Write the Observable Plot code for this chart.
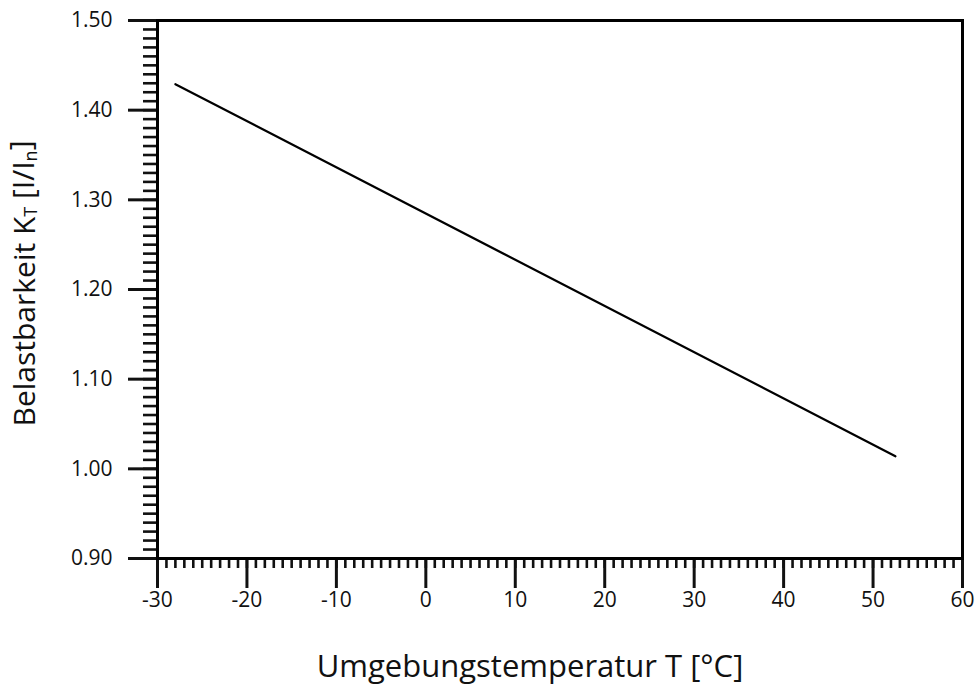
<!DOCTYPE html>
<html>
<head>
<meta charset="utf-8">
<script src="https://cdn.jsdelivr.net/npm/d3@7"></script>
<script src="https://cdn.jsdelivr.net/npm/@observablehq/plot@0.6"></script>
<style>
  html, body { margin: 0; padding: 0; background: #fff; }
</style>
</head>
<body>
<div id="chart"></div>
<script>
// Data
const temperature = [-28, 52.5];          // Umgebungstemperatur T [°C]
const loadFactor  = [1.429, 1.014];       // Belastbarkeit KT [I/In]

// Tick positions / labels
const xMajorTicks = [-30, -20, -10, 0, 10, 20, 30, 40, 50, 60];
const yMajorTicks = [0.90, 1.00, 1.10, 1.20, 1.30, 1.40, 1.50];
const xMinorTicks = d3.range(-30, 61, 1);
const yMinorTicks = d3.range(90, 151, 1).map(v => v / 100);

const data = temperature.map((t, i) => ({t, k: loadFactor[i]}));

const font = "'Open Sans', 'Noto Sans', sans-serif";

const chart = Plot.plot({
  width: 978,
  height: 691,
  marginLeft: 157,
  marginRight: 16,
  marginTop: 20,
  marginBottom: 133,
  style: {fontFamily: font, fontSize: "21px", color: "#111", background: "#fff"},
  x: {domain: [-30, 60]},
  y: {domain: [0.9, 1.5]},
  marks: [
    Plot.axisY({ticks: yMinorTicks, tickSize: 14, strokeWidth: 2.6, tickFormat: () => "", label: null}),
    Plot.axisX({ticks: xMinorTicks, tickSize: 10, strokeWidth: 2.6, tickFormat: () => "", label: null}),
    Plot.axisY({ticks: yMajorTicks, tickSize: 29, strokeWidth: 3, tickPadding: 16, tickFormat: d3.format(".2f"), fontSize: 21, label: null}),
    Plot.axisX({ticks: xMajorTicks, tickSize: 30, strokeWidth: 3, tickPadding: 4, tickFormat: d => String(d), fontSize: 21, label: null}),
    Plot.frame({strokeWidth: 3, stroke: "#000"}),
    Plot.line(data, {x: "t", y: "k", stroke: "#000", strokeWidth: 2.2}),
    Plot.text(["Umgebungstemperatur T [°C]"], {frameAnchor: "bottom", dx: -30, dy: 118, fontSize: 31, fill: "#111", text: d => d}),
    Plot.text(["Belastbarkeit KT [I/In]"], {frameAnchor: "left", textAnchor: "middle", dx: -132, dy: -6, rotate: -90, fontSize: 30, fill: "#111", text: d => d})
  ]
});

document.getElementById("chart").appendChild(chart);

// Render subscripts in the y-axis title
d3.select(chart).selectAll("text").each(function() {
  const el = d3.select(this);
  if (el.text() === "Belastbarkeit KT [I/In]") {
    el.text(null);
    el.append("tspan").text("Belastbarkeit K");
    el.append("tspan").attr("font-size", 18).attr("dy", "0.12em").text("T");
    el.append("tspan").attr("dy", "-0.12em").text(" [I/I");
    el.append("tspan").attr("font-size", 18).attr("dy", "0.2em").text("n");
    el.append("tspan").attr("dy", "-0.2em").text("]");
  }
});
</script>
</body>
</html>
